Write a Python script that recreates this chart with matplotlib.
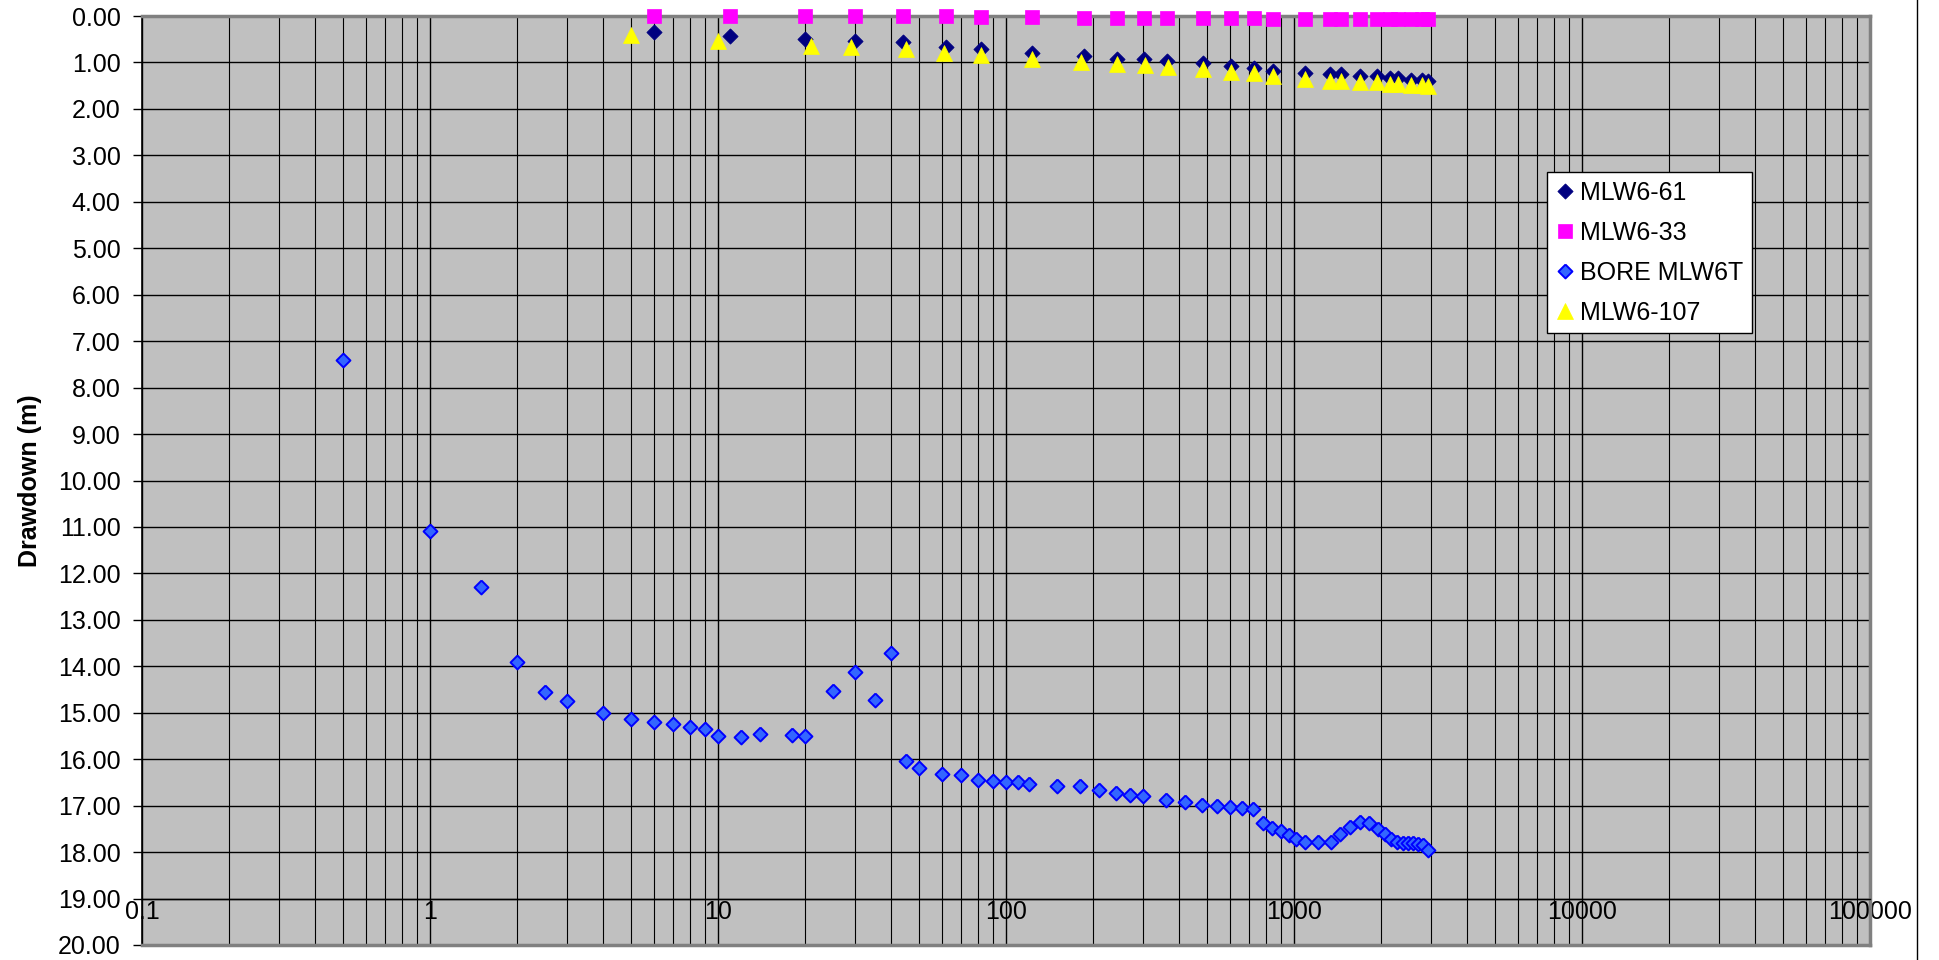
import numpy as np
import matplotlib
matplotlib.use("Agg")
import matplotlib.pyplot as plt
from matplotlib.ticker import LogLocator, FixedLocator, FixedFormatter, NullFormatter
from matplotlib.lines import Line2D

plt.rcParams['font.family'] = ['Liberation Sans', 'DejaVu Sans']

# ---------------- data ----------------
t_61 = [6, 11, 20, 30, 44, 62, 82, 123, 186, 242, 301, 363, 483, 603, 726, 847,
        1092, 1334, 1453, 1694, 1937, 2154, 2302, 2548, 2775, 2925]
dd_61 = [0.35, 0.43, 0.50, 0.53, 0.57, 0.67, 0.71, 0.79, 0.86, 0.93, 0.93, 0.97, 1.02,
         1.08, 1.11, 1.18, 1.23, 1.25, 1.25, 1.29, 1.29, 1.34, 1.34, 1.38, 1.38, 1.39]

t_33 = [6, 11, 20, 30, 44, 62, 82, 123, 186, 242, 301, 363, 483, 603, 726, 847,
        1092, 1334, 1453, 1694, 1937, 2154, 2302, 2548, 2775, 2925]
dd_33 = [0.0, 0.0, 0.0, 0.0, 0.0, 0.01, 0.02, 0.03, 0.05, 0.05, 0.05, 0.04, 0.04,
         0.04, 0.05, 0.06, 0.06, 0.07, 0.07, 0.07, 0.07, 0.07, 0.07, 0.07, 0.07, 0.07]

t_bore = [0.5, 1, 1.5, 2, 2.5, 3, 4, 5, 6, 7, 8, 9, 10, 12, 14, 18, 20, 25, 30, 35,
          40, 45, 50, 60, 70, 80, 90, 100, 110, 120, 150, 180, 210, 240, 270, 300,
          360, 420, 480, 540, 600, 660, 720, 780, 840, 900, 960, 1020, 1090, 1210,
          1340, 1450, 1570, 1690, 1820, 1950, 2070, 2170, 2270, 2390, 2480, 2580,
          2700, 2800, 2920]
dd_bore = [7.40, 11.08, 12.30, 13.91, 14.55, 14.75, 15.01, 15.13, 15.19, 15.24, 15.31,
           15.35, 15.50, 15.53, 15.45, 15.48, 15.49, 14.54, 14.13, 14.73, 13.71, 16.04,
           16.20, 16.32, 16.33, 16.45, 16.46, 16.50, 16.49, 16.53, 16.58, 16.58, 16.67,
           16.72, 16.77, 16.79, 16.88, 16.92, 16.99, 17.01, 17.03, 17.06, 17.07, 17.37,
           17.48, 17.55, 17.63, 17.72, 17.78, 17.79, 17.79, 17.60, 17.45, 17.35, 17.37,
           17.51, 17.62, 17.72, 17.79, 17.81, 17.81, 17.81, 17.83, 17.85, 17.96]

t_107 = [5, 10, 21, 29, 45, 61, 82, 123, 182, 242, 303, 364, 483, 603, 726, 847,
         1092, 1334, 1453, 1694, 1937, 2154, 2302, 2548, 2775, 2925]
dd_107 = [0.41, 0.53, 0.64, 0.66, 0.71, 0.79, 0.84, 0.93, 0.98, 1.03, 1.05, 1.09, 1.15,
          1.20, 1.23, 1.29, 1.36, 1.40, 1.41, 1.43, 1.43, 1.46, 1.46, 1.49, 1.49, 1.51]

x_ticks = [0.1, 1, 10, 100, 1000, 10000, 100000]
x_tick_labels = ['0.1', '1', '10', '100', '1000', '10000', '100000']
y_ticks = list(range(0, 21))
y_tick_labels = ['%.2f' % v for v in y_ticks]

# ---------------- figure ----------------
W, H = 1939, 960
fig = plt.figure(figsize=(W / 100, H / 100), dpi=100)
left_px, right_px, top_px, bot_px = 142, 1870, 16, 945
aw, ah = right_px - left_px, bot_px - top_px
ax = fig.add_axes([left_px / W, 1 - bot_px / H, aw / W, ah / H])
ax.set_facecolor('#C0C0C0')

ax.set_xscale('log')
ax.set_xlim(0.1, 100000)
ax.set_ylim(20, 0)

FS = 18

# grid
ax.set_axisbelow(True)
ax.xaxis.set_major_locator(FixedLocator(x_ticks))
ax.xaxis.set_major_formatter(FixedFormatter(x_tick_labels))
ax.xaxis.set_minor_locator(LogLocator(base=10, subs=np.arange(2, 10), numticks=100))
ax.xaxis.set_minor_formatter(NullFormatter())
ax.yaxis.set_major_locator(FixedLocator(y_ticks))
ax.yaxis.set_major_formatter(FixedFormatter(y_tick_labels))
ax.grid(which='major', axis='both', color='black', lw=1.0)
ax.grid(which='minor', axis='x', color='black', lw=0.8)

# spines
ax.spines['bottom'].set_position(('data', 19))
ax.spines['bottom'].set_color('black')
ax.spines['bottom'].set_linewidth(1.0)
ax.spines['left'].set_color('black')
ax.spines['left'].set_linewidth(1.2)
for s in ('top', 'right'):
    ax.spines[s].set_color('#808080')
    ax.spines[s].set_linewidth(2.5)
ax.plot([0, 1], [0, 0], transform=ax.transAxes, color='#808080', lw=2.5,
        clip_on=False, zorder=3)

ax.tick_params(axis='x', which='both', length=0, pad=1, labelsize=FS)
ax.tick_params(axis='y', which='major', length=6.5, width=1, direction='out',
               pad=9, labelsize=FS)

# markers
diamond = [(0, 1), (1, 0), (0, -1), (-1, 0), (0, 1)]

ax.plot(t_61, dd_61, ls='none', marker=diamond, ms=11, mfc='#000080',
        mec='#000080', mew=0.5, label='MLW6-61', clip_on=False, zorder=4)
ax.plot(t_33, dd_33, ls='none', marker='s', ms=10.5, mfc='#FF00FF', mec='#FF00FF',
        mew=0.5, label='MLW6-33', clip_on=False, zorder=4)
ax.plot(t_bore, dd_bore, ls='none', marker=diamond, ms=10, mfc='#3366FF',
        mec='#0000FF', mew=1.4, label='BORE MLW6T', clip_on=False, zorder=4)
ax.plot(t_107, dd_107, ls='none', marker='^', ms=12, mfc='#FFFF00', mec='#FFFF00',
        mew=0.5, label='MLW6-107', clip_on=False, zorder=4)

ax.set_ylabel('Drawdown (m)', fontsize=FS, fontweight='bold')
ax.yaxis.set_label_coords((42 - left_px) / aw, 0.5)

leg = ax.legend(loc='upper left',
                bbox_to_anchor=((1547 - left_px) / aw, 1 - (172 - top_px) / ah),
                borderaxespad=0, fontsize=FS, frameon=True, fancybox=False,
                framealpha=1, edgecolor='black', numpoints=1, borderpad=0.34,
                labelspacing=0.64, handlelength=0.78, handletextpad=0.2)
leg.get_frame().set_linewidth(1.0)
leg.set_zorder(10)

# outer chart border (right side)
fig.add_artist(Line2D([1917 / W, 1917 / W], [0, 1], color='black', lw=1.0))

fig.savefig('out.png', dpi=100, facecolor='white')
